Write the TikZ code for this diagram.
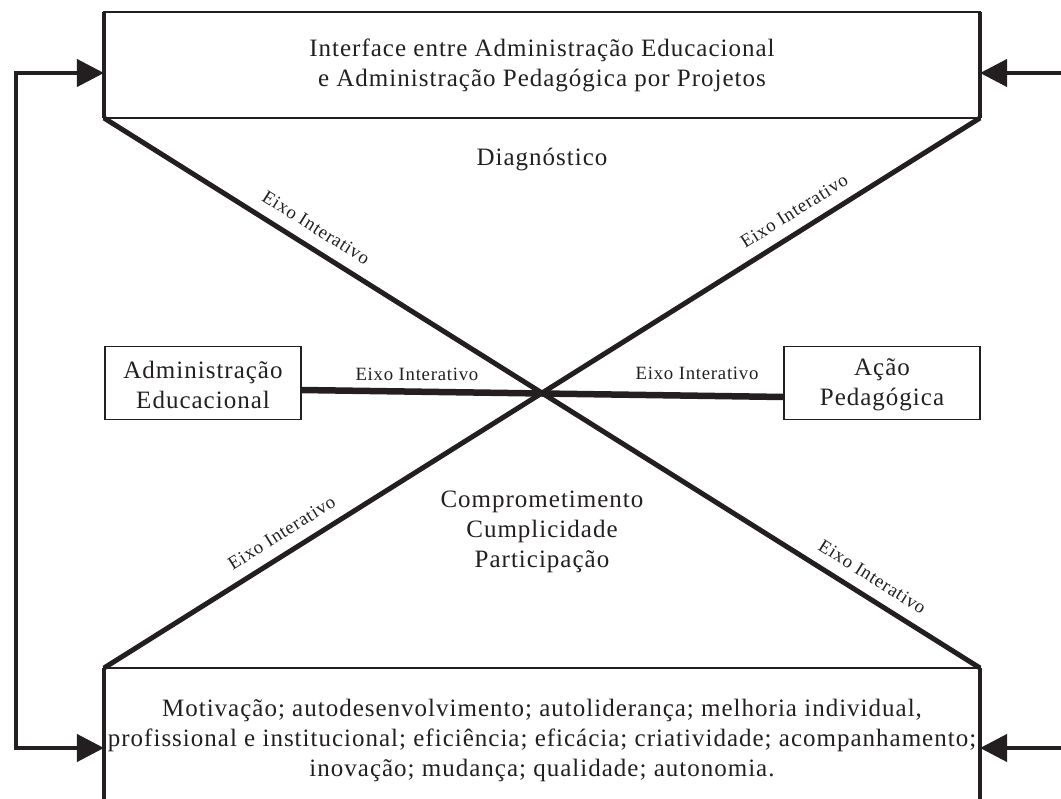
\documentclass[tikz,border=0pt]{standalone}
\usepackage{fontspec}
\setmainfont{Liberation Serif}[LetterSpace=4]
\usetikzlibrary{arrows.meta,calc}
\definecolor{ink}{RGB}{35,31,32}

\tikzset{
  frame/.style={draw=ink, line width=0.6pt, outer sep=0pt, inner sep=0pt},
  side/.style={ink, line width=1.6pt},
  axis/.style={ink, line width=2pt},
  link/.style={ink, line width=2.6pt},
  feed/.style={ink, line width=1.6pt, -{Triangle[length=10.8pt,width=10.8pt]}},
  txt/.style={align=center, font=\fontsize{10}{12}\selectfont, text=ink},
  eixo/.style={font=\fontsize{7.5}{9}\selectfont, text=ink, inner sep=1pt}
}

\begin{document}
\begin{tikzpicture}[x=0.4pt, y=-0.4pt]
  \useasboundingbox (0,0) rectangle (1061,799);

  % boxes
  \node[frame, minimum width=350.4pt, minimum height=42.4pt] (top) at (542,65) {};
  \node[frame, minimum width=350.4pt, minimum height=64pt] (bot) at (542,748) {};
  \node[frame, minimum width=78.4pt, minimum height=29.2pt] (adm) at (203,383) {};
  \node[frame, minimum width=78.4pt, minimum height=29.2pt] (acao) at (882,383) {};

  \draw[side] (top.north west) -- (top.south west);
  \draw[side] (top.north east) -- (top.south east);
  \draw[side] (bot.north west) -- (bot.south west);
  \draw[side] (bot.north east) -- (bot.south east);

  % texts
  \node[txt] (toptxt) at (542,65) {Interface entre Administração Educacional\\e Administração Pedagógica por Projetos};
  \node[txt] (bottxt) at (542,740) {Motivação; autodesenvolvimento; autoliderança; melhoria individual,\\profissional e institucional; eficiência; eficácia; criatividade; acompanhamento;\\inovação; mudança; qualidade; autonomia.};
  \node[txt] (admtxt) at (203,385) {Administração\\Educacional};
  \node[txt] (acaotxt) at (882,385) {Ação\\Pedagógica};
  \node[txt] (diag) at (542,160) {Diagnóstico};
  \node[txt] (comp) at (542,532) {Comprometimento\\Cumplicidade\\Participação};

  % crossing axes
  \coordinate (mid) at (542,393);
  \draw[axis] (top.south west) -- node[eixo, pos=.46, sloped, above=3.5pt] {Eixo Interativo} (mid)
    -- node[eixo, pos=.73, sloped, above=3.5pt] {Eixo Interativo} (bot.north east);
  \draw[axis] (bot.north west) -- node[eixo, pos=.43, sloped, above=3.5pt] {Eixo Interativo} (mid)
    -- node[eixo, pos=.60, sloped, above=3.5pt] {Eixo Interativo} (top.south east);
  \draw[link] ($(adm.east)+(0,7)$) -- node[eixo, pos=.24, above=2pt] {Eixo Interativo}
    node[eixo, pos=.82, above=4pt] {Eixo Interativo} ($(acao.west)+(0,14)$);

  % feedback arrows
  \draw[feed, {Triangle[length=10.8pt,width=10.8pt]}-{Triangle[length=10.8pt,width=10.8pt]}]
    ($(top.west)+(0,8)$) -- ++(-88,0) |- (bot.west);
  \coordinate (rtop) at (1061,73);
  \coordinate (rbot) at (1061,748);
  \draw[feed] (rtop) -- (rtop -| top.east);
  \draw[feed] (rbot) -- (bot.east);
\end{tikzpicture}
\end{document}
